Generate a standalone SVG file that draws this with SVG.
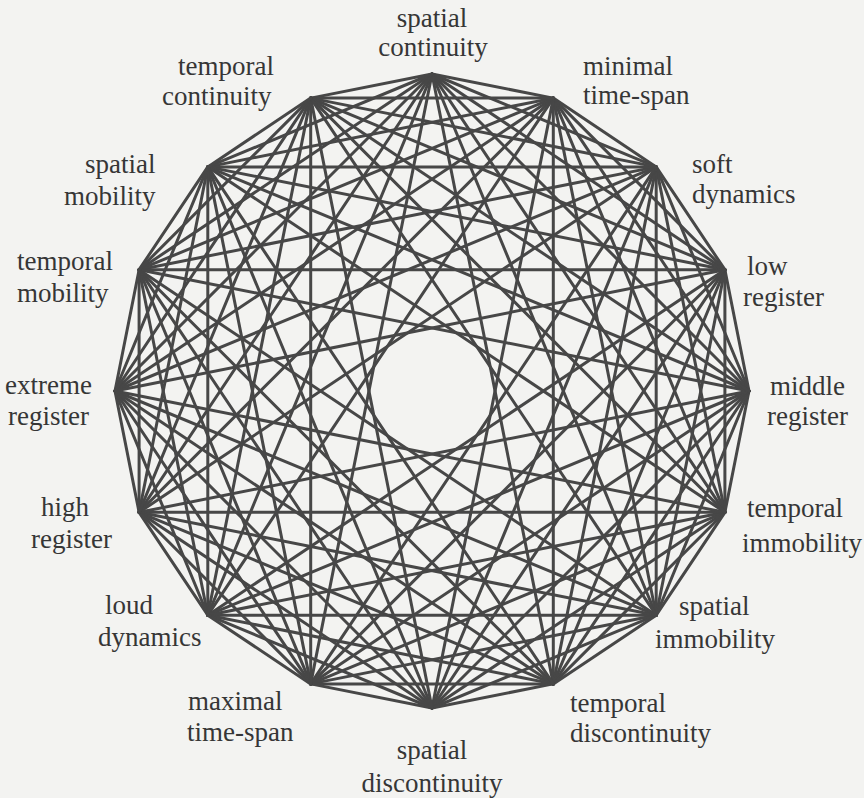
<svg xmlns="http://www.w3.org/2000/svg" width="864" height="798" viewBox="0 0 864 798">
<style>
.bg{fill:#f3f3f1}
.e{fill:none;stroke:#474747;stroke-width:3;stroke-linecap:round}
.t{font-family:'Liberation Serif',Tinos,'Times New Roman','DejaVu Serif',serif;font-size:27px;fill:#363636}
.m{text-anchor:middle}
</style>
<rect class="bg" x="0" y="0" width="864" height="798"/>
<g id="connectors">
<path class="e" d="M432 74L553.3 98.1"/><path class="e" d="M432 74L656.2 166.9"/><path class="e" d="M432 74L724.9 269.7"/><path class="e" d="M432 74L749 391"/><path class="e" d="M432 74L724.9 512.3"/><path class="e" d="M432 74L656.2 615.2"/><path class="e" d="M432 74L553.3 683.9"/><path class="e" d="M432 74L310.7 683.9"/><path class="e" d="M432 74L207.8 615.2"/><path class="e" d="M432 74L139.1 512.3"/><path class="e" d="M432 74L115 391"/><path class="e" d="M432 74L139.1 269.7"/><path class="e" d="M432 74L207.8 166.9"/><path class="e" d="M432 74L310.7 98.1"/>
<path class="e" d="M553.3 98.1L656.2 166.9"/><path class="e" d="M553.3 98.1L724.9 269.7"/><path class="e" d="M553.3 98.1L749 391"/><path class="e" d="M553.3 98.1L724.9 512.3"/><path class="e" d="M553.3 98.1L656.2 615.2"/><path class="e" d="M553.3 98.1L553.3 683.9"/><path class="e" d="M553.3 98.1L432 708"/><path class="e" d="M553.3 98.1L207.8 615.2"/><path class="e" d="M553.3 98.1L139.1 512.3"/><path class="e" d="M553.3 98.1L115 391"/><path class="e" d="M553.3 98.1L139.1 269.7"/><path class="e" d="M553.3 98.1L207.8 166.9"/><path class="e" d="M553.3 98.1L310.7 98.1"/>
<path class="e" d="M656.2 166.9L724.9 269.7"/><path class="e" d="M656.2 166.9L749 391"/><path class="e" d="M656.2 166.9L724.9 512.3"/><path class="e" d="M656.2 166.9L656.2 615.2"/><path class="e" d="M656.2 166.9L553.3 683.9"/><path class="e" d="M656.2 166.9L432 708"/><path class="e" d="M656.2 166.9L310.7 683.9"/><path class="e" d="M656.2 166.9L139.1 512.3"/><path class="e" d="M656.2 166.9L115 391"/><path class="e" d="M656.2 166.9L139.1 269.7"/><path class="e" d="M656.2 166.9L207.8 166.9"/><path class="e" d="M656.2 166.9L310.7 98.1"/>
<path class="e" d="M724.9 269.7L749 391"/><path class="e" d="M724.9 269.7L724.9 512.3"/><path class="e" d="M724.9 269.7L656.2 615.2"/><path class="e" d="M724.9 269.7L553.3 683.9"/><path class="e" d="M724.9 269.7L432 708"/><path class="e" d="M724.9 269.7L310.7 683.9"/><path class="e" d="M724.9 269.7L207.8 615.2"/><path class="e" d="M724.9 269.7L115 391"/><path class="e" d="M724.9 269.7L139.1 269.7"/><path class="e" d="M724.9 269.7L207.8 166.9"/><path class="e" d="M724.9 269.7L310.7 98.1"/>
<path class="e" d="M749 391L724.9 512.3"/><path class="e" d="M749 391L656.2 615.2"/><path class="e" d="M749 391L553.3 683.9"/><path class="e" d="M749 391L432 708"/><path class="e" d="M749 391L310.7 683.9"/><path class="e" d="M749 391L207.8 615.2"/><path class="e" d="M749 391L139.1 512.3"/><path class="e" d="M749 391L139.1 269.7"/><path class="e" d="M749 391L207.8 166.9"/><path class="e" d="M749 391L310.7 98.1"/>
<path class="e" d="M724.9 512.3L656.2 615.2"/><path class="e" d="M724.9 512.3L553.3 683.9"/><path class="e" d="M724.9 512.3L432 708"/><path class="e" d="M724.9 512.3L310.7 683.9"/><path class="e" d="M724.9 512.3L207.8 615.2"/><path class="e" d="M724.9 512.3L139.1 512.3"/><path class="e" d="M724.9 512.3L115 391"/><path class="e" d="M724.9 512.3L207.8 166.9"/><path class="e" d="M724.9 512.3L310.7 98.1"/>
<path class="e" d="M656.2 615.2L553.3 683.9"/><path class="e" d="M656.2 615.2L432 708"/><path class="e" d="M656.2 615.2L310.7 683.9"/><path class="e" d="M656.2 615.2L207.8 615.2"/><path class="e" d="M656.2 615.2L139.1 512.3"/><path class="e" d="M656.2 615.2L115 391"/><path class="e" d="M656.2 615.2L139.1 269.7"/><path class="e" d="M656.2 615.2L310.7 98.1"/>
<path class="e" d="M553.3 683.9L432 708"/><path class="e" d="M553.3 683.9L310.7 683.9"/><path class="e" d="M553.3 683.9L207.8 615.2"/><path class="e" d="M553.3 683.9L139.1 512.3"/><path class="e" d="M553.3 683.9L115 391"/><path class="e" d="M553.3 683.9L139.1 269.7"/><path class="e" d="M553.3 683.9L207.8 166.9"/>
<path class="e" d="M432 708L310.7 683.9"/><path class="e" d="M432 708L207.8 615.2"/><path class="e" d="M432 708L139.1 512.3"/><path class="e" d="M432 708L115 391"/><path class="e" d="M432 708L139.1 269.7"/><path class="e" d="M432 708L207.8 166.9"/><path class="e" d="M432 708L310.7 98.1"/>
<path class="e" d="M310.7 683.9L207.8 615.2"/><path class="e" d="M310.7 683.9L139.1 512.3"/><path class="e" d="M310.7 683.9L115 391"/><path class="e" d="M310.7 683.9L139.1 269.7"/><path class="e" d="M310.7 683.9L207.8 166.9"/><path class="e" d="M310.7 683.9L310.7 98.1"/>
<path class="e" d="M207.8 615.2L139.1 512.3"/><path class="e" d="M207.8 615.2L115 391"/><path class="e" d="M207.8 615.2L139.1 269.7"/><path class="e" d="M207.8 615.2L207.8 166.9"/><path class="e" d="M207.8 615.2L310.7 98.1"/>
<path class="e" d="M139.1 512.3L115 391"/><path class="e" d="M139.1 512.3L139.1 269.7"/><path class="e" d="M139.1 512.3L207.8 166.9"/><path class="e" d="M139.1 512.3L310.7 98.1"/>
<path class="e" d="M115 391L139.1 269.7"/><path class="e" d="M115 391L207.8 166.9"/><path class="e" d="M115 391L310.7 98.1"/>
<path class="e" d="M139.1 269.7L207.8 166.9"/><path class="e" d="M139.1 269.7L310.7 98.1"/>
<path class="e" d="M207.8 166.9L310.7 98.1"/>
</g>
<g id="spatial-continuity"><text class="t m" x="432" y="27">spatial</text><text class="t m" x="433" y="56">continuity</text></g>
<g id="minimal-time-span"><text class="t" x="583" y="75">minimal</text><text class="t" x="583" y="104">time-span</text></g>
<g id="soft-dynamics"><text class="t" x="692" y="173">soft</text><text class="t" x="692" y="203">dynamics</text></g>
<g id="low-register"><text class="t" x="747" y="275">low</text><text class="t" x="743" y="306">register</text></g>
<g id="middle-register"><text class="t" x="770" y="395">middle</text><text class="t" x="767" y="425">register</text></g>
<g id="temporal-immobility"><text class="t" x="747" y="517">temporal</text><text class="t" x="742" y="552">immobility</text></g>
<g id="spatial-immobility"><text class="t" x="679" y="615">spatial</text><text class="t" x="655" y="648">immobility</text></g>
<g id="temporal-discontinuity"><text class="t" x="570" y="712">temporal</text><text class="t" x="570" y="742">discontinuity</text></g>
<g id="spatial-discontinuity"><text class="t m" x="432" y="759">spatial</text><text class="t m" x="432" y="792">discontinuity</text></g>
<g id="maximal-time-span"><text class="t" x="188" y="710">maximal</text><text class="t" x="187" y="741">time-span</text></g>
<g id="loud-dynamics"><text class="t" x="105" y="614">loud</text><text class="t" x="98" y="646">dynamics</text></g>
<g id="high-register"><text class="t" x="41" y="516">high</text><text class="t" x="31" y="548">register</text></g>
<g id="extreme-register"><text class="t" x="5" y="394">extreme</text><text class="t" x="8" y="425">register</text></g>
<g id="temporal-mobility"><text class="t" x="17" y="270">temporal</text><text class="t" x="17" y="302">mobility</text></g>
<g id="spatial-mobility"><text class="t" x="85" y="173">spatial</text><text class="t" x="64" y="205">mobility</text></g>
<g id="temporal-continuity"><text class="t" x="178" y="75">temporal</text><text class="t" x="162" y="105">continuity</text></g>
</svg>
